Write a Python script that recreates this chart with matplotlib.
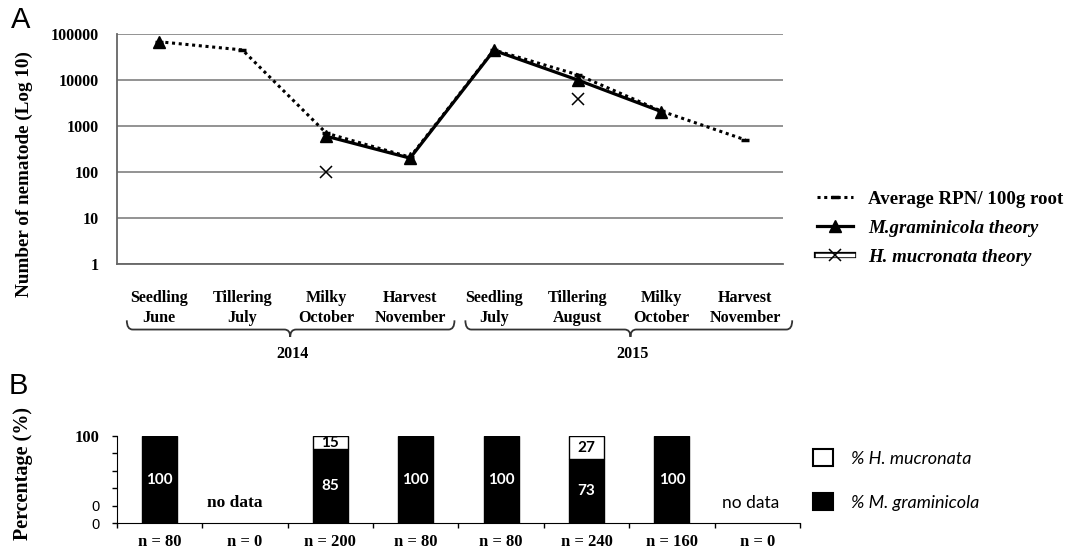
import numpy as np
import matplotlib
matplotlib.use("Agg")
import matplotlib.pyplot as plt
from matplotlib.lines import Line2D
from matplotlib.patches import Patch, PathPatch
from matplotlib.path import Path
from matplotlib.transforms import blended_transform_factory
import matplotlib.patheffects as pe

# Sampling stages (two seasons)
stages = ['Seedling\nJune', 'Tillering\nJuly', 'Milky\nOctober', 'Harvest\nNovember',
          'Seedling\nJuly', 'Tillering\nAugust', 'Milky\nOctober', 'Harvest\nNovember']
years = ['2014', '2015']

# Nematode counts (log scale)
avg_rpn = [68000, 45000, 700, 210, 45000, 13000, 2100, 500]
m_gram = [68000, np.nan, 600, 200, 44000, 10000, 2050, np.nan]
h_muc = [np.nan, np.nan, 100, np.nan, np.nan, 3900, np.nan, np.nan]

# Species composition (%)
pct_mg = [100, 0, 85, 100, 100, 73, 100, 0]
pct_hm = [0, 0, 15, 0, 0, 27, 0, 0]
n_samples = [80, 0, 200, 80, 80, 240, 160, 0]
no_data = [False, True, False, False, False, False, False, True]

SERIF = 'Liberation Serif'
SANS = 'Liberation Sans'
CAL = 'Lato'
GRID = '#8a8a8a'

fig = plt.figure(figsize=(10.72, 5.51), dpi=100)
x = np.arange(len(stages))

# ---- A: nematode counts ----
ax1 = fig.add_axes([0.1089, 0.5209, 0.6215, 0.4174])
ax1.set_yscale('log')
ax1.set_ylim(1, 100000)
ax1.set_xlim(-0.5, 7.45)
ax1.yaxis.set_minor_locator(matplotlib.ticker.NullLocator())
yt = [1, 10, 100, 1000, 10000, 100000]
ax1.set_yticks(yt, [str(v) for v in yt])
ax1.set_xticks(x, stages)
for lab in ax1.get_yticklabels() + ax1.get_xticklabels():
    lab.set_fontfamily(SERIF)
    lab.set_fontweight('bold')
    lab.set_fontsize(11.6)
for lab in ax1.get_xticklabels():
    lab.set_linespacing(1.3)
ax1.tick_params(axis='y', length=0, pad=13)
ax1.tick_params(axis='x', length=0, pad=19)
ax1.grid(axis='y', color=GRID, lw=1.3)
ax1.set_axisbelow(True)
for s in ['top', 'right']:
    ax1.spines[s].set_visible(False)
for s in ['left', 'bottom']:
    ax1.spines[s].set_color('#666666')
    ax1.spines[s].set_linewidth(1.3)

l_avg, = ax1.plot(x, avg_rpn, color='black', lw=2.2, ls=(0, (1, 1.2)),
                  marker='_', ms=6, mew=2.5, label='Average RPN/ 100g root')
l_mg, = ax1.plot(x, m_gram, color='black', lw=2.3, marker='^', ms=9,
                 label='M.graminicola theory')
l_hm, = ax1.plot(x, h_muc, color='black', ls='none', marker='x', ms=9, mew=1.1)
band = Line2D([], [], color='white', lw=2.5,
              path_effects=[pe.Stroke(linewidth=4.5, foreground='black'), pe.Normal()])

leg1 = ax1.legend([l_avg, l_mg, (band, l_hm)],
                  ['Average RPN/ 100g root', 'M.graminicola theory', 'H. mucronata theory'],
                  loc='center left', bbox_to_anchor=(0.7621, 0.5862),
                  bbox_transform=fig.transFigure, frameon=False, borderpad=0,
                  borderaxespad=0, handlelength=1.9, handletextpad=0.8,
                  labelspacing=0.62, numpoints=1,
                  prop={'family': SERIF, 'weight': 'bold', 'size': 13.6})
leg1.get_texts()[1].set_style('italic')
leg1.get_texts()[2].set_style('italic')

ax1.set_ylabel('Number of nematode (Log 10)', fontfamily=SERIF, fontweight='bold',
               fontsize=13.8)
ax1.yaxis.set_label_coords(33 / 1072, 1 - 174 / 551, transform=fig.transFigure)


# year braces under the stage labels
def brace(ax, x0, x1, xm, y, hook=0.04, tip=0.032, dx=0.07):
    tr = blended_transform_factory(ax.transData, ax.transAxes)
    verts = [(x0, y + hook), (x0, y), (x0 + dx, y), (xm - dx, y), (xm, y), (xm, y - tip),
             (xm, y), (xm + dx, y), (x1 - dx, y), (x1, y), (x1, y + hook)]
    codes = [Path.MOVETO, Path.CURVE3, Path.CURVE3, Path.LINETO, Path.CURVE3, Path.CURVE3,
             Path.CURVE3, Path.CURVE3, Path.LINETO, Path.CURVE3, Path.CURVE3]
    ax.add_patch(PathPatch(Path(verts, codes), transform=tr, fill=False,
                           lw=1.3, color='#333333', clip_on=False))


brace(ax1, -0.38, 3.53, 1.57, -0.285)
brace(ax1, 3.66, 7.56, 5.63, -0.285)
for yr, xc in zip(years, [1.6, 5.65]):
    ax1.text(xc, -0.392, yr, transform=blended_transform_factory(ax1.transData, ax1.transAxes),
             ha='center', va='center', fontfamily=SERIF, fontweight='bold', fontsize=11.6)

# ---- B: species composition ----
ax2 = fig.add_axes([0.1091, 0.0508, 0.6372, 0.1579])
ax2.set_xlim(-0.5, 7.5)
ax2.set_ylim(0, 100)
bw = 0.41
mg_idx = [i for i in x if pct_mg[i] > 0]
ax2.bar(mg_idx, [pct_mg[i] for i in mg_idx], width=bw, color='black', edgecolor='black', lw=1)
hm_idx = [i for i in x if pct_hm[i] > 0]
ax2.bar(hm_idx, [pct_hm[i] for i in hm_idx], bottom=[pct_mg[i] for i in hm_idx],
        width=bw, color='white', edgecolor='black', lw=1)
for i in x:
    if pct_mg[i] > 0:
        ax2.text(i, pct_mg[i] / 2, str(pct_mg[i]), ha='center', va='center', color='white',
                 fontfamily=CAL, fontweight='bold', fontsize=11)
    if pct_hm[i] > 0:
        ax2.text(i, pct_mg[i] + pct_hm[i] / 2, str(pct_hm[i]), ha='center', va='center',
                 color='black', fontfamily=CAL, fontweight='bold', fontsize=11)
nd = [i for i in x if no_data[i]]
ax2.text(nd[0] - 0.12, 23, 'no data', ha='center', va='center', fontfamily=SERIF,
         fontweight='bold', fontsize=12.5)
ax2.text(nd[1] - 0.08, 23, 'no data', ha='center', va='center', fontfamily=CAL,
         fontsize=12.5)

ax2.set_xticks(x, ['n = %d' % n for n in n_samples])
ax2.set_xticks(np.arange(-0.5, 8.0, 1), minor=True)
for lab in ax2.get_xticklabels():
    lab.set_fontfamily(SERIF)
    lab.set_fontweight('bold')
    lab.set_fontsize(12)
ax2.tick_params(axis='x', which='major', length=0, pad=8)
ax2.tick_params(axis='x', which='minor', length=3.5, width=1)
ax2.set_yticks([0, 20, 40, 60, 80, 100], ['0', '0', '', '', '', '100'])
ylabs = ax2.get_yticklabels()
for lab in ylabs[:2]:
    lab.set_fontfamily(SANS)
    lab.set_fontsize(10.5)
ylabs[-1].set_fontfamily(SERIF)
ylabs[-1].set_fontweight('bold')
ylabs[-1].set_fontsize(12)
ax2.tick_params(axis='y', length=3.5, width=1, pad=9)
for s in ['top', 'right']:
    ax2.spines[s].set_visible(False)
ax2.set_ylabel('Percentage (%)', fontfamily=SERIF, fontweight='bold', fontsize=14.5)
ax2.yaxis.set_label_coords(33 / 1072, 1 - 474 / 551, transform=fig.transFigure)

leg2 = ax2.legend([Patch(facecolor='white', edgecolor='black', lw=1.5),
                   Patch(facecolor='black', edgecolor='black', lw=1.5)],
                  ['% H. mucronata', '% M. graminicola'],
                  loc='center left', bbox_to_anchor=(0.7584, 0.1289),
                  bbox_transform=fig.transFigure, frameon=False, borderpad=0,
                  borderaxespad=0, handlelength=1.1, handleheight=1.1,
                  handletextpad=1.0, labelspacing=1.45,
                  prop={'family': CAL, 'style': 'italic', 'size': 13})

# panel letters
fig.text(11 / 1072, 1 - 20 / 551, 'A', fontfamily=SANS, fontsize=21, va='center')
fig.text(9 / 1072, 1 - 386 / 551, 'B', fontfamily=SANS, fontsize=21, va='center')

fig.savefig('out.png', dpi=100)
